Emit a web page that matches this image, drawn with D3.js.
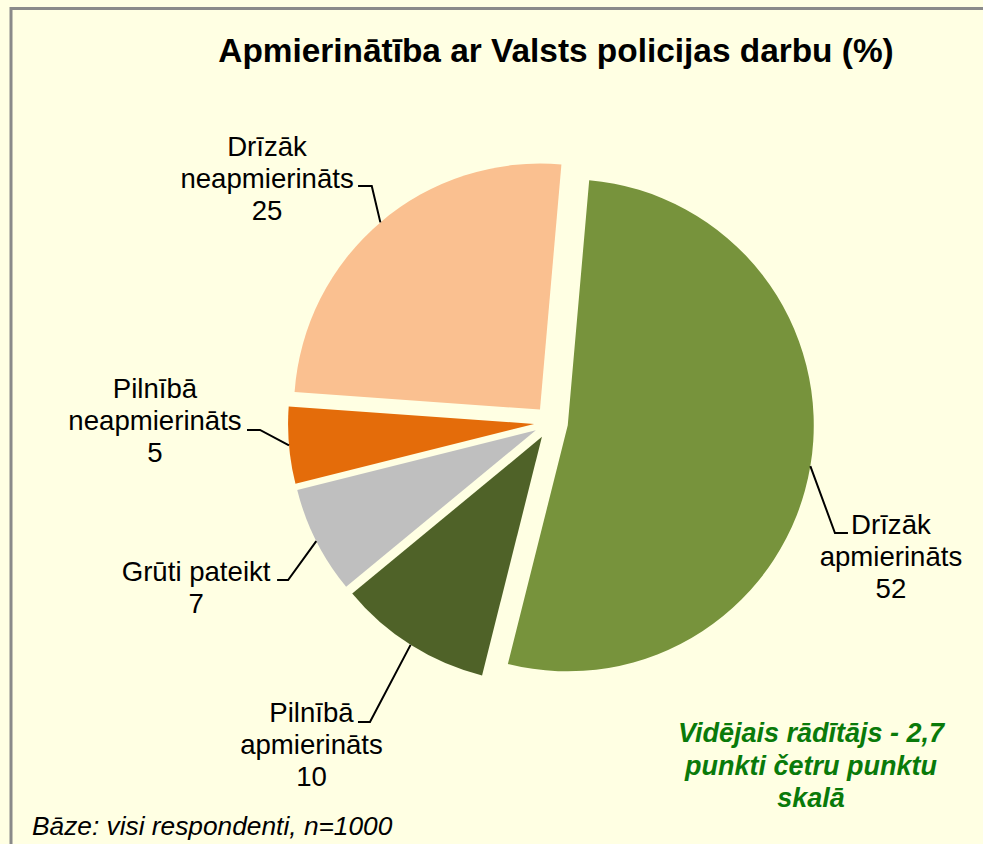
<!DOCTYPE html>
<html>
<head>
<meta charset="utf-8">
<script src="https://cdn.jsdelivr.net/npm/d3@7"></script>
<style>
  html, body { margin: 0; padding: 0; background: #FFFFE3; }
  svg { display: block; }
</style>
</head>
<body>
<svg id="chart" width="983" height="844"></svg>
<script>
// ---- data ----
const categories = ["Drīzāk apmierināts", "Pilnībā apmierināts", "Grūti pateikt", "Pilnībā neapmierināts", "Drīzāk neapmierināts"];
const labelLines = [["Drīzāk", "apmierināts"], ["Pilnībā", "apmierināts"], ["Grūti pateikt"], ["Pilnībā", "neapmierināts"], ["Drīzāk", "neapmierināts"]];
const values = [52, 10, 7, 5, 25];
const colors = ["#77933C", "#4F6228", "#BFBFBF", "#E46C0A", "#FAC090"];
const titleText = "Apmierinātība ar Valsts policijas darbu (%)";
const noteLines = ["Vidējais rādītājs - 2,7", "punkti četru punktu", "skalā"];
const baseText = "Bāze: visi respondenti, n=1000";

// ---- layout ----
const W = 983, H = 844;
const cx = 551, cy = 422.5, R = 246, explode = 17;
const startDeg = 5;
const fontFamily = "'Liberation Sans', Arial, sans-serif";
const lineH = 31.8;
// leader/label offsets relative to the leader start point on the arc
const labelLayout = [
  { ex: 24.6, ey: 66.9, endx: 37.6, tx: 80.6, ty: 67.9 },
  { ex: -40.6, ey: 77.1, endx: -52.6, tx: -99.1, ty: 77.6 },
  { ex: -28.2, ey: 38.9, endx: -39.2, tx: -120.2, ty: 39.9 },
  { ex: -29, ey: -15.5, endx: -42, tx: -134, ty: -47 },
  { ex: -8.6, ey: -36.4, endx: -22.3, tx: -113.3, ty: -66.4 }
];

const svg = d3.select("#chart");
svg.append("rect").attr("width", W).attr("height", H).attr("fill", "#FFFFE3");

// border (frame partly cropped)
svg.append("path")
  .attr("d", `M11,${H} L11,8.5 L${W},8.5`)
  .attr("fill", "none").attr("stroke", "#8A8A8A").attr("stroke-width", 3);

// title
svg.append("text")
  .attr("x", 556).attr("y", 62)
  .attr("text-anchor", "middle")
  .attr("font-family", fontFamily).attr("font-weight", "bold").attr("font-size", 33.4)
  .attr("fill", "#000").text(titleText);

const pie = d3.pie().sort(null).value(d => d)
  .startAngle(startDeg * Math.PI / 180)
  .endAngle(startDeg * Math.PI / 180 + 2 * Math.PI);
const arcs = pie(values);
const arc = d3.arc().innerRadius(0).outerRadius(R);

const g = svg.append("g").attr("transform", `translate(${cx},${cy})`);

g.selectAll("path.slice").data(arcs).enter().append("path")
  .attr("class", "slice")
  .attr("d", arc)
  .attr("fill", (d, i) => colors[i])
  .attr("transform", d => {
    const m = (d.startAngle + d.endAngle) / 2;
    return `translate(${explode * Math.sin(m)},${-explode * Math.cos(m)})`;
  });

// labels + leader lines
arcs.forEach((d, i) => {
  const m = (d.startAngle + d.endAngle) / 2;
  const sx = (R + explode) * Math.sin(m);
  const sy = -(R + explode) * Math.cos(m);
  const L = labelLayout[i];
  g.append("path")
    .attr("d", `M${sx},${sy} L${sx + L.ex},${sy + L.ey} L${sx + L.endx},${sy + L.ey}`)
    .attr("fill", "none").attr("stroke", "#000").attr("stroke-width", 2);
  const lines = labelLines[i].concat([String(values[i])]);
  const t = g.append("text")
    .attr("text-anchor", "middle")
    .attr("font-family", fontFamily).attr("font-size", 27.6)
    .attr("fill", "#000");
  lines.forEach((ln, k) => {
    t.append("tspan").attr("x", sx + L.tx).attr("y", sy + L.ty + k * lineH).text(ln);
  });
});

// note (green)
const note = svg.append("text")
  .attr("text-anchor", "middle")
  .attr("font-family", fontFamily).attr("font-size", 27)
  .attr("font-weight", "bold").attr("font-style", "italic")
  .attr("fill", "#0A7A0A");
noteLines.forEach((ln, k) => {
  note.append("tspan").attr("x", 811).attr("y", 742 + k * 32.5).text(ln);
});

// base
svg.append("text")
  .attr("x", 32).attr("y", 835)
  .attr("font-family", fontFamily).attr("font-size", 26.3)
  .attr("font-style", "italic").attr("fill", "#000")
  .text(baseText);
</script>
</body>
</html>
